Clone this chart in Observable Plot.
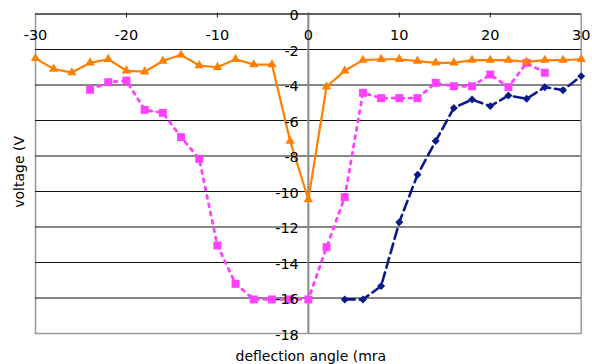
<!DOCTYPE html>
<html>
<head>
<meta charset="utf-8">
<script src="https://cdn.jsdelivr.net/npm/d3@7"></script>
<script src="https://cdn.jsdelivr.net/npm/@observablehq/plot@0.6"></script>
<style>
  html, body { margin: 0; padding: 0; background: #fff; }
  svg { display: block; }
</style>
</head>
<body>
<div id="chart"></div>
<script>
// ---- data ----
const orangeX = [-30,-28,-26,-24,-22,-20,-18,-16,-14,-12,-10,-8,-6,-4,-2,0,2,4,6,8,10,12,14,16,18,20,22,24,26,28,30];
const orangeY = [-2.5,-3.1,-3.3,-2.75,-2.55,-3.2,-3.25,-2.65,-2.3,-2.9,-3.0,-2.55,-2.85,-2.85,-7.15,-10.45,-4.1,-3.2,-2.6,-2.55,-2.55,-2.65,-2.75,-2.75,-2.6,-2.6,-2.6,-2.7,-2.6,-2.6,-2.55];

const pinkX = [-24,-22,-20,-18,-16,-14,-12,-10,-8,-6,-4,-2,0,2,4,6,8,10,12,14,16,18,20,22,24,26];
const pinkY = [-4.27,-3.84,-3.75,-5.4,-5.57,-6.94,-8.16,-13.04,-15.2,-16.08,-16.08,-16.08,-16.08,-13.14,-10.32,-4.44,-4.74,-4.74,-4.74,-3.88,-4.07,-4.07,-3.41,-4.12,-2.75,-3.31];

const blueX = [4,6,8,10,12,14,16,18,20,22,24,26,28,30];
const blueY = [-16.08,-16.08,-15.33,-11.73,-9.06,-7.16,-5.29,-4.82,-5.19,-4.59,-4.78,-4.12,-4.29,-3.5];

const xTicks = [-30,-20,-10,0,10,20,30];
const yTicks = [0,-2,-4,-6,-8,-10,-12,-14,-16,-18];
const yGrid = [-2,-4,-6,-8,-10,-12,-14,-16];
const xLabel = "deflection angle (mra";
const yLabel = "voltage (V";

// ---- build tables ----
const orange = orangeX.map((x, i) => ({x, y: orangeY[i]}));
const pink = pinkX.map((x, i) => ({x, y: pinkY[i]}));
const blue = blueX.map((x, i) => ({x, y: blueY[i]}));

const cOrange = "#FF8000", cPink = "#FF40FF", cBlue = "#0A1A8C";
const font = "'DejaVu Sans', Verdana, sans-serif";

const chart = Plot.plot({
  width: 592,
  height: 364,
  marginLeft: 35,
  marginRight: 11.3,
  marginTop: 13.5,
  marginBottom: 31,
  style: {fontFamily: font, fontSize: "14px", background: "#fff", overflow: "visible"},
  x: {domain: [-30, 30], axis: null},
  y: {domain: [-18, 0], axis: null},
  marks: [
    Plot.frame({stroke: "#999", strokeWidth: 1.5}),
    Plot.ruleY(yGrid, {stroke: "#111", strokeWidth: 1.1}),
    Plot.ruleX([0], {y1: 0.05, y2: -18, stroke: "#888", strokeWidth: 2}),
    Plot.ruleY([0], {stroke: "#111", strokeWidth: 1}),
    Plot.ruleX(xTicks.filter(d => d !== -30 && d !== 30 && d !== 0), {y1: 0.05, y2: -0.22, stroke: "#111", strokeWidth: 1}),
    // blue series
    Plot.line(blue, {x: "x", y: "y", stroke: cBlue, strokeWidth: 2.6, strokeDasharray: "10,5"}),
    Plot.dot(blue, {x: "x", y: "y", symbol: "diamond2", r: 3.6, fill: cBlue, stroke: "none"}),
    // pink series
    Plot.line(pink, {x: "x", y: "y", stroke: cPink, strokeWidth: 2.8, strokeDasharray: "3,5.5"}),
    Plot.dot(pink, {x: "x", y: "y", symbol: "square", r: 4.5, fill: cPink, stroke: "none"}),
    // orange series
    Plot.line(orange, {x: "x", y: "y", stroke: cOrange, strokeWidth: 2.2}),
    Plot.dot(orange, {x: "x", y: "y", symbol: "triangle", r: 3.5, fill: cOrange, stroke: "none"}),
    // tick labels
    Plot.text(xTicks, {x: d => d, y: 0, text: d => String(d), dy: 21.4, textAnchor: "middle", lineAnchor: "middle", fill: "#000", fontSize: 14.5}),
    Plot.text(yTicks, {x: 0, y: d => d, text: d => String(d), dx: -9.5, dy: 1.6, textAnchor: "end", lineAnchor: "middle", fill: "#000", fontSize: 14.5}),
    // axis titles
    Plot.text([xLabel], {frameAnchor: "bottom", text: d => d, dx: -72.8, dy: 27, textAnchor: "start", lineAnchor: "bottom", fill: "#000", fontSize: 14}),
    Plot.text([yLabel], {frameAnchor: "left", text: d => d, rotate: -90, dx: -16, dy: 34, textAnchor: "start", lineAnchor: "middle", fill: "#000", fontSize: 14})
  ]
});
document.getElementById("chart").appendChild(chart);
</script>
</body>
</html>
